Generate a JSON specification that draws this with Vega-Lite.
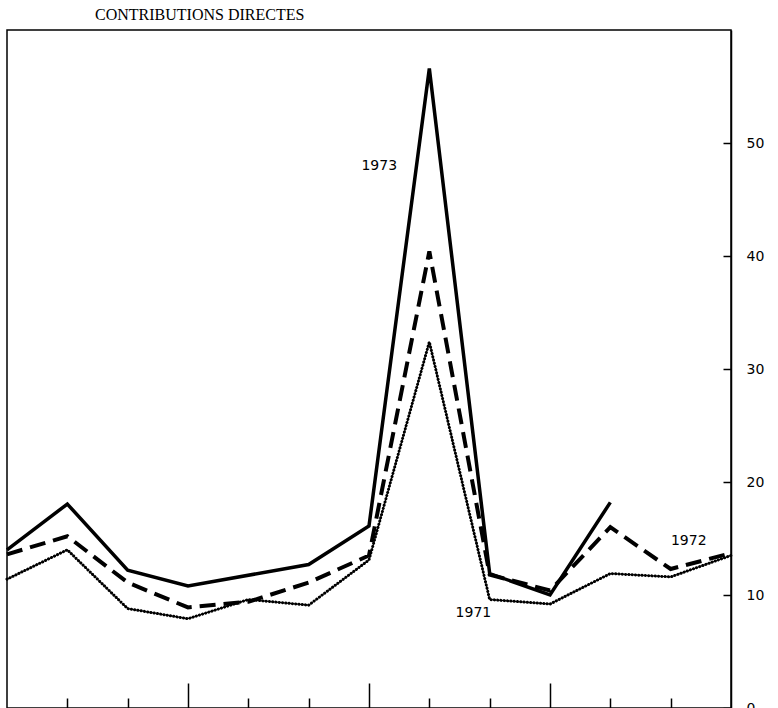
{
  "$schema": "https://vega.github.io/schema/vega-lite/v6.json",
  "width": 724,
  "height": 678,
  "autosize": {"type": "none"},
  "padding": {"left": 7, "top": 30, "right": 47, "bottom": 0},
  "background": "white",
  "title": {"text": "CONTRIBUTIONS DIRECTES", "anchor": "start", "frame": "group", "dx": 88, "offset": 7, "font": "Liberation Serif", "fontSize": 16, "fontWeight": "normal", "color": "black"},
  "config": {"view": {"stroke": "black", "strokeWidth": 1.5}, "axis": {"grid": false}},
  "datasets": {
    "series": [
      {"m": 0, "year": 1973, "v": 14.0},
      {"m": 1, "year": 1973, "v": 18.05},
      {"m": 2, "year": 1973, "v": 12.2},
      {"m": 3, "year": 1973, "v": 10.8},
      {"m": 5, "year": 1973, "v": 12.7},
      {"m": 6, "year": 1973, "v": 16.1},
      {"m": 7, "year": 1973, "v": 56.6},
      {"m": 8, "year": 1973, "v": 11.9},
      {"m": 9, "year": 1973, "v": 10.0},
      {"m": 10, "year": 1973, "v": 18.2},
      {"m": 0, "year": 1972, "v": 13.6},
      {"m": 1, "year": 1972, "v": 15.2},
      {"m": 2, "year": 1972, "v": 11.1},
      {"m": 3, "year": 1972, "v": 8.9},
      {"m": 4, "year": 1972, "v": 9.4},
      {"m": 5, "year": 1972, "v": 11.1},
      {"m": 6, "year": 1972, "v": 13.5},
      {"m": 7, "year": 1972, "v": 40.4},
      {"m": 8, "year": 1972, "v": 11.8},
      {"m": 9, "year": 1972, "v": 10.4},
      {"m": 10, "year": 1972, "v": 16.0},
      {"m": 11, "year": 1972, "v": 12.3},
      {"m": 12, "year": 1972, "v": 13.7},
      {"m": 0, "year": 1971, "v": 11.4},
      {"m": 1, "year": 1971, "v": 14.0},
      {"m": 2, "year": 1971, "v": 8.8},
      {"m": 3, "year": 1971, "v": 7.9},
      {"m": 4, "year": 1971, "v": 9.6},
      {"m": 5, "year": 1971, "v": 9.1},
      {"m": 6, "year": 1971, "v": 13.1},
      {"m": 7, "year": 1971, "v": 32.4},
      {"m": 8, "year": 1971, "v": 9.6},
      {"m": 9, "year": 1971, "v": 9.2},
      {"m": 10, "year": 1971, "v": 11.9},
      {"m": 11, "year": 1971, "v": 11.6},
      {"m": 12, "year": 1971, "v": 13.5}
    ],
    "labels": [
      {"m": 6.17, "v": 48.0, "label": "1973"},
      {"m": 11.3, "v": 14.8, "label": "1972"},
      {"m": 7.73, "v": 8.4, "label": "1971"}
    ]
  },
  "data": {"name": "series"},
  "encoding": {
    "x": {"field": "m", "type": "quantitative", "scale": {"domain": [0, 12], "nice": false, "zero": false},
      "axis": {"orient": "bottom", "title": null, "values": [1, 2, 3, 4, 5, 6, 7, 8, 9, 10, 11], "labels": false, "domain": false, "tickColor": "black", "tickWidth": 1.5,
        "tickSize": {"condition": {"test": "datum.value % 3 === 0", "value": -25}, "value": -10}}},
    "y": {"field": "v", "type": "quantitative", "scale": {"domain": [0, 60], "nice": false},
      "axis": {"orient": "right", "title": null, "values": [0, 10, 20, 30, 40, 50], "domainColor": "black", "domainWidth": 1.5, "tickColor": "black", "tickWidth": 1.5, "tickSize": -8, "labelPadding": 23, "labelFont": "DejaVu Sans", "labelFontSize": 14, "labelColor": "black"}}
  },
  "layer": [
    {"transform": [{"filter": "datum.year === 1973"}], "mark": {"type": "line", "color": "black", "strokeWidth": 3.5}},
    {"transform": [{"filter": "datum.year === 1972"}], "mark": {"type": "line", "color": "black", "strokeWidth": 4, "strokeDash": [16, 8]}},
    {"transform": [{"filter": "datum.year === 1971"}], "mark": {"type": "line", "color": "black", "strokeWidth": 1}},
    {"transform": [{"filter": "datum.year === 1971"}], "mark": {"type": "line", "color": "black", "strokeWidth": 3, "strokeDash": [0.1, 3.2], "strokeCap": "round"}},
    {"data": {"name": "labels"}, "mark": {"type": "text", "font": "DejaVu Sans", "fontSize": 14, "color": "black"}, "encoding": {"text": {"field": "label"}}}
  ]
}
